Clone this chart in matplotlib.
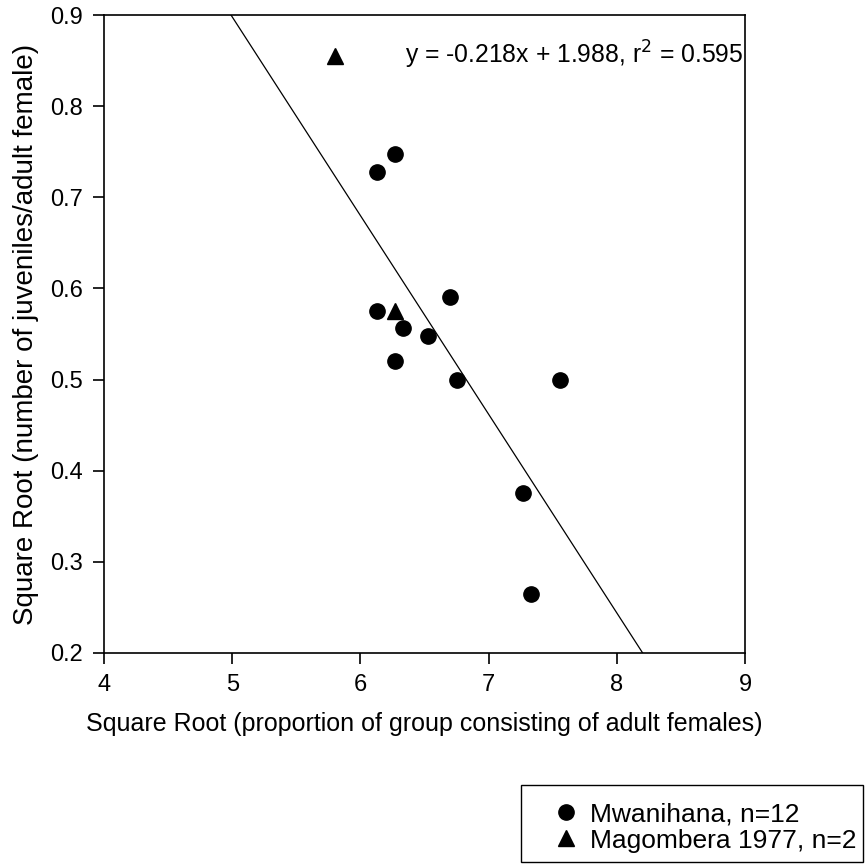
import matplotlib
matplotlib.use("Agg")
import matplotlib.pyplot as plt
import numpy as np
from matplotlib.lines import Line2D
from matplotlib.patches import Rectangle

plt.rcParams['font.family'] = ['Liberation Sans', 'DejaVu Sans']

mw_x = [6.13, 6.27, 6.13, 6.33, 6.27, 6.53, 6.70, 6.75, 7.56, 7.27, 7.33]
mw_y = [0.728, 0.748, 0.575, 0.557, 0.520, 0.548, 0.591, 0.500, 0.500, 0.376, 0.265]
mg_x = [5.80, 6.27]
mg_y = [0.855, 0.575]
slope = -0.218
intercept = 1.988
eq_text = "y = -0.218x + 1.988, r$^2$ = 0.595"
xlabel = "Square Root (proportion of group consisting of adult females)"
ylabel = "Square Root (number of juveniles/adult female)"
legend_labels = ["Mwanihana, n=12", "Magombera 1977, n=2"]

W = H = 868
fig = plt.figure(figsize=(8.68, 8.68), dpi=100)
ax = fig.add_axes([0.1198, 0.2477, 0.7385, 0.735])

ax.plot(mw_x, mw_y, 'o', color='black', markersize=11, linestyle='none')
ax.plot(mg_x, mg_y, '^', color='black', markersize=11, linestyle='none')
lx = np.array([4.0, 9.0])
ax.plot(lx, slope * lx + intercept, color='black', linewidth=0.9)

ax.set_xlim(4, 9)
ax.set_ylim(0.2, 0.9)
ax.set_xticks([4, 5, 6, 7, 8, 9])
ax.set_yticks([0.2, 0.3, 0.4, 0.5, 0.6, 0.7, 0.8, 0.9])
ax.set_yticklabels(["0.2", "0.3", "0.4", "0.5", "0.6", "0.7", "0.8", "0.9"])
ax.tick_params(direction='out', length=8, width=1.2, labelsize=17, pad=7)
for s in ax.spines.values():
    s.set_linewidth(1.2)
ax.set_xlabel(xlabel, fontsize=18, labelpad=12)
ax.set_ylabel(ylabel, fontsize=20, labelpad=8)
ax.text(8.98, 0.856, eq_text, ha='right', va='center', fontsize=17.8)

# legend frame box
fig.patches.append(Rectangle((521 / W, 1 - 862 / H), 342 / W, 77 / H,
                             transform=fig.transFigure, fill=False,
                             edgecolor='black', linewidth=1.0))
handles = [Line2D([], [], marker='o', color='black', linestyle='none', markersize=11),
           Line2D([], [], marker='^', color='black', linestyle='none', markersize=11)]
leg = fig.legend(handles, legend_labels,
                 loc='center left', bbox_to_anchor=(553 / W, 1 - 827.5 / H),
                 fontsize=19, frameon=False, borderpad=0.0, borderaxespad=0.0,
                 handlelength=1.0, handletextpad=0.4, labelspacing=0.08)

fig.savefig("out.png", dpi=100)
